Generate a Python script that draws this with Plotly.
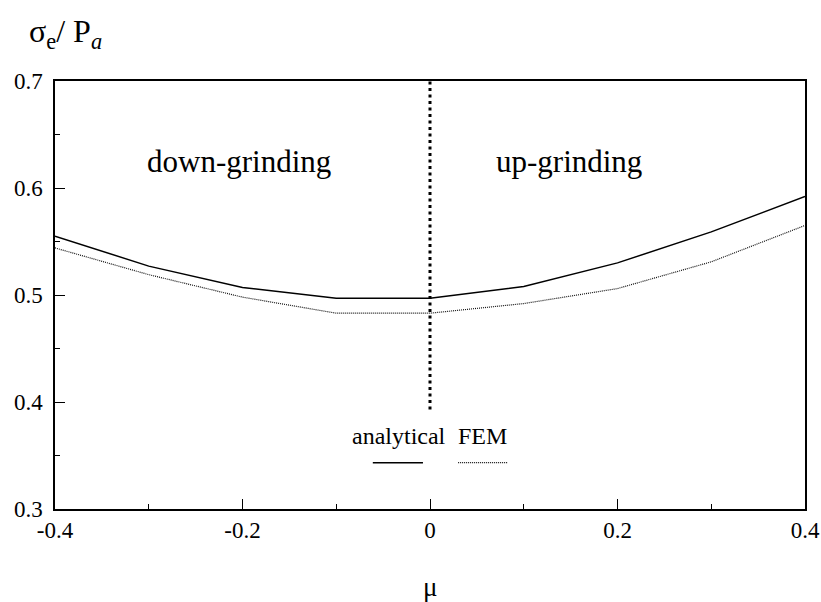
import plotly.graph_objects as go

mu = [-0.4, -0.3, -0.2, -0.1, 0.0, 0.1, 0.2, 0.3, 0.4]
analytical = [0.555, 0.527, 0.507, 0.497, 0.497, 0.508, 0.530, 0.559, 0.592]
fem = [0.544, 0.519, 0.498, 0.483, 0.483, 0.492, 0.506, 0.531, 0.565]

x_ticks = [-0.4, -0.2, 0.0, 0.2, 0.4]
x_ticktext = ["-0.4", "-0.2", "0", "0.2", "0.4"]
y_ticks = [0.3, 0.4, 0.5, 0.6, 0.7]
y_ticktext = ["0.3", "0.4", "0.5", "0.6", "0.7"]

divider_x = 0.0
divider_y = [0.393, 0.7]

FONT = "Liberation Serif"

fig = go.Figure()
fig.add_trace(go.Scatter(x=mu, y=analytical, mode="lines", name="analytical",
                         line=dict(color="black", width=1.5)))
fig.add_trace(go.Scatter(x=mu, y=fem, mode="lines", name="FEM",
                         line=dict(color="#111", width=1.2, dash="1px,1px")))
fig.add_trace(go.Scatter(x=[divider_x, divider_x], y=divider_y, mode="lines",
                         line=dict(color="black", width=3, dash="3px,3.5px"),
                         showlegend=False))

axis_common = dict(showline=True, linecolor="black", linewidth=1.5, mirror=True,
                   ticks="inside", ticklen=10, tickwidth=1, tickcolor="black",
                   showgrid=False, zeroline=False, automargin=False,
                   tickfont=dict(family=FONT, size=23, color="black"))

fig.update_xaxes(range=[-0.4, 0.4], tickvals=x_ticks, ticktext=x_ticktext,
                 minor=dict(ticks="inside", ticklen=5, tickvals=[-0.3, -0.1, 0.1, 0.3], tickcolor="black"),
                 **axis_common)
fig.update_yaxes(range=[0.3, 0.7], tickvals=y_ticks, ticktext=y_ticktext,
                 ticklabelstandoff=6,
                 minor=dict(ticks="inside", ticklen=5, tickvals=[0.35, 0.45, 0.55, 0.65], tickcolor="black"),
                 **axis_common)

annotations = [
    dict(x=-0.204, y=0.625, xref="x", yref="y", text="down-grinding", showarrow=False,
         font=dict(family=FONT, size=31, color="black")),
    dict(x=0.148, y=0.625, xref="x", yref="y", text="up-grinding", showarrow=False,
         font=dict(family=FONT, size=31, color="black")),
    dict(x=-0.033, y=0.368, xref="x", yref="y", text="analytical", showarrow=False,
         font=dict(family=FONT, size=24, color="black")),
    dict(x=0.0565, y=0.368, xref="x", yref="y", text="FEM", showarrow=False,
         font=dict(family=FONT, size=24, color="black")),
    dict(x=(27 - 55) / 750, y=(509 - 56) / 428, xref="paper", yref="paper",
         text="σ<sub>e</sub>/ P<sub><i>a</i></sub>",
         showarrow=False, xanchor="left", yanchor="bottom",
         font=dict(family=FONT, size=32, color="black")),
    dict(x=0.0, y=(509 - 587) / 428, xref="x", yref="paper", text="μ", showarrow=False,
         yanchor="middle", font=dict(family=FONT, size=27, color="black")),
]

fig.update_layout(
    width=821, height=602,
    margin=dict(l=55, r=16, t=81, b=93),
    paper_bgcolor="white", plot_bgcolor="white",
    showlegend=False,
    annotations=annotations,
    shapes=[
        dict(type="line", xref="x", yref="y", x0=-0.061, x1=-0.0075, y0=0.3433, y1=0.3433,
             line=dict(color="black", width=1.5)),
        dict(type="line", xref="x", yref="y", x0=0.030, x1=0.083, y0=0.3433, y1=0.3433,
             line=dict(color="#111", width=1.2, dash="1px,1px")),
    ],
)

fig.write_html("out.html")
